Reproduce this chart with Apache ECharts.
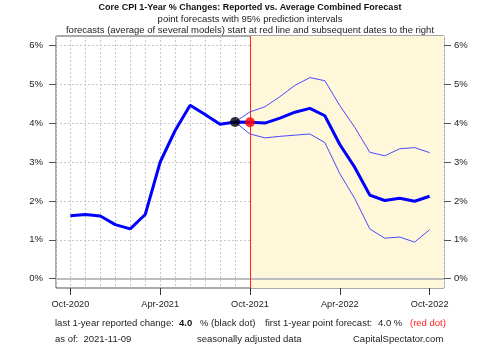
<!DOCTYPE html>
<html>
<head>
<meta charset="utf-8">
<script src="https://cdn.jsdelivr.net/npm/echarts@6/dist/echarts.min.js"></script>
<style>
html,body{margin:0;padding:0;background:#fff;}
#chart{width:500px;height:346px;}
</style>
</head>
<body>
<div id="chart"></div>
<script>
// Months indexed 0 = Oct-2020 ... 24 = Oct-2022
var tickLabels = ["Oct-2020", "Apr-2021", "Oct-2021", "Apr-2022", "Oct-2022"];
var tickPositions = [0, 6, 12, 18, 24];
// Reported core CPI y/y % (Oct-2020 .. Sep-2021)
var reported = [1.62, 1.65, 1.61, 1.39, 1.28, 1.65, 3.00, 3.81, 4.46, 4.22, 3.97, 4.03];
// Point forecasts (Oct-2021 .. Oct-2022)
var forecast = [4.02, 4.00, 4.13, 4.28, 4.38, 4.19, 3.45, 2.86, 2.15, 2.01, 2.07, 1.99, 2.12];
// 95% interval bounds, starting at the last reported point (Sep-2021 .. Oct-2022)
var upper = [4.03, 4.29, 4.42, 4.68, 4.97, 5.17, 5.09, 4.45, 3.89, 3.25, 3.16, 3.34, 3.37, 3.24];
var lower = [4.03, 3.72, 3.62, 3.66, 3.69, 3.72, 3.50, 2.70, 2.06, 1.28, 1.04, 1.07, 0.94, 1.26];
var yTicks = [0, 1, 2, 3, 4, 5, 6];

var FONT = '"Liberation Sans", Arial, sans-serif';
var FS = '9.5px ';
var xMin = -0.96, xMax = 24.96, yMin = -0.24, yMax = 6.24;
var lastIdx = reported.length - 1;
var fcStart = reported.length;

var mainData = reported.concat(forecast).map(function (v, i) { return [i, v]; });
var upperData = upper.map(function (v, k) { return [lastIdx + k, v]; });
var lowerData = lower.map(function (v, k) { return [lastIdx + k, v]; });

var chart = echarts.init(document.getElementById('chart'), null, {renderer: 'canvas'});
var gridLine = {show: true, lineStyle: {color: '#c8c8c8', type: [2, 2], width: 1}};

function foot(x, y, text, font, fill) {
  return {type: 'text', x: x, y: y, style: {text: text, font: font + FONT, fill: fill || '#222', verticalAlign: 'middle'}};
}

var option = {
  animation: false,
  backgroundColor: '#fff',
  grid: {left: 56, right: 56, top: 36, bottom: 58, show: true, borderColor: '#555', borderWidth: 1, backgroundColor: 'transparent'},
  xAxis: [
    {type: 'value', min: xMin, max: xMax, minInterval: 1, maxInterval: 1,
     axisLine: {show: false, onZero: false}, axisTick: {show: false}, axisLabel: {show: false}, splitLine: gridLine},
    {type: 'value', min: xMin, max: xMax, position: 'bottom',
     axisLine: {show: false, onZero: false}, splitLine: {show: false},
     axisTick: {show: true, length: 7, customValues: tickPositions, lineStyle: {color: '#333'}},
     axisLabel: {show: true, customValues: tickPositions, margin: 12,
       fontFamily: FONT, fontSize: 9.2, color: '#222',
       formatter: function (v) { var k = tickPositions.indexOf(v); return k >= 0 ? tickLabels[k] : ''; }}}
  ],
  yAxis: [
    {type: 'value', min: yMin, max: yMax, minInterval: 1, maxInterval: 1, position: 'left',
     axisLine: {show: false, onZero: false}, splitLine: gridLine,
     axisTick: {show: true, length: 7, customValues: yTicks, lineStyle: {color: '#555'}},
     axisLabel: {customValues: yTicks, margin: 13, fontFamily: FONT, fontSize: 9.5, color: '#222', formatter: '{value}%'}},
    {type: 'value', min: yMin, max: yMax, position: 'right',
     axisLine: {show: false, onZero: false}, splitLine: {show: false},
     axisTick: {show: true, length: 7, customValues: yTicks, lineStyle: {color: '#555'}},
     axisLabel: {customValues: yTicks, margin: 10, fontFamily: FONT, fontSize: 9.5, color: '#222', formatter: '{value}%'}}
  ],
  series: [
    {type: 'line', data: [], xAxisIndex: 0, yAxisIndex: 0, silent: true,
     markArea: {silent: true, itemStyle: {color: '#fff7da'}, data: [[{xAxis: fcStart}, {xAxis: xMax}]]},
     markLine: {silent: true, symbol: 'none', label: {show: false},
       data: [
         {yAxis: 0, lineStyle: {color: '#bdbdbd', width: 2, type: 'solid'}},
         {xAxis: fcStart, lineStyle: {color: '#ff2020', width: 1, type: 'solid'}}
       ]}},
    {type: 'line', data: upperData, xAxisIndex: 0, yAxisIndex: 0, symbol: 'none', silent: true,
     lineStyle: {color: '#4a4aff', width: 1}, z: 3},
    {type: 'line', data: lowerData, xAxisIndex: 0, yAxisIndex: 0, symbol: 'none', silent: true,
     lineStyle: {color: '#4a4aff', width: 1}, z: 3},
    {type: 'line', data: mainData, xAxisIndex: 0, yAxisIndex: 0, symbol: 'none', silent: true,
     lineStyle: {color: '#0000ff', width: 3}, z: 4},
    {type: 'scatter', data: [[lastIdx, reported[lastIdx]]], symbolSize: 10, silent: true,
     itemStyle: {color: '#000'}, z: 5},
    {type: 'scatter', data: [[fcStart, forecast[0]]], symbolSize: 10, silent: true,
     itemStyle: {color: '#ff0000'}, z: 5}
  ],
  graphic: [
    {type: 'text', left: 'center', top: 3, style: {text: 'Core CPI 1-Year % Changes: Reported vs. Average Combined Forecast', font: 'bold 9px ' + FONT, fill: '#111'}},
    {type: 'text', left: 'center', top: 14, style: {text: 'point forecasts with 95% prediction intervals', font: FS + FONT, fill: '#222'}},
    {type: 'text', left: 'center', top: 25, style: {text: 'forecasts (average of several models) start at red line and subsequent dates to the right', font: FS + FONT, fill: '#222'}},
    foot(55, 323, 'last 1-year reported change:', FS),
    foot(179, 323, reported[lastIdx].toFixed(1), 'bold ' + FS, '#111'),
    foot(200, 323, '% (black dot)', FS),
    foot(265, 323, 'first 1-year point forecast:', FS),
    foot(378, 323, forecast[0].toFixed(1) + ' %', FS),
    foot(410, 323, '(red dot)', FS, '#ff2020'),
    foot(55, 339, 'as of:  2021-11-09', FS),
    foot(197, 339, 'seasonally adjusted data', FS),
    foot(353, 339, 'CapitalSpectator.com', FS)
  ]
};
chart.setOption(option);
</script>
</body>
</html>
